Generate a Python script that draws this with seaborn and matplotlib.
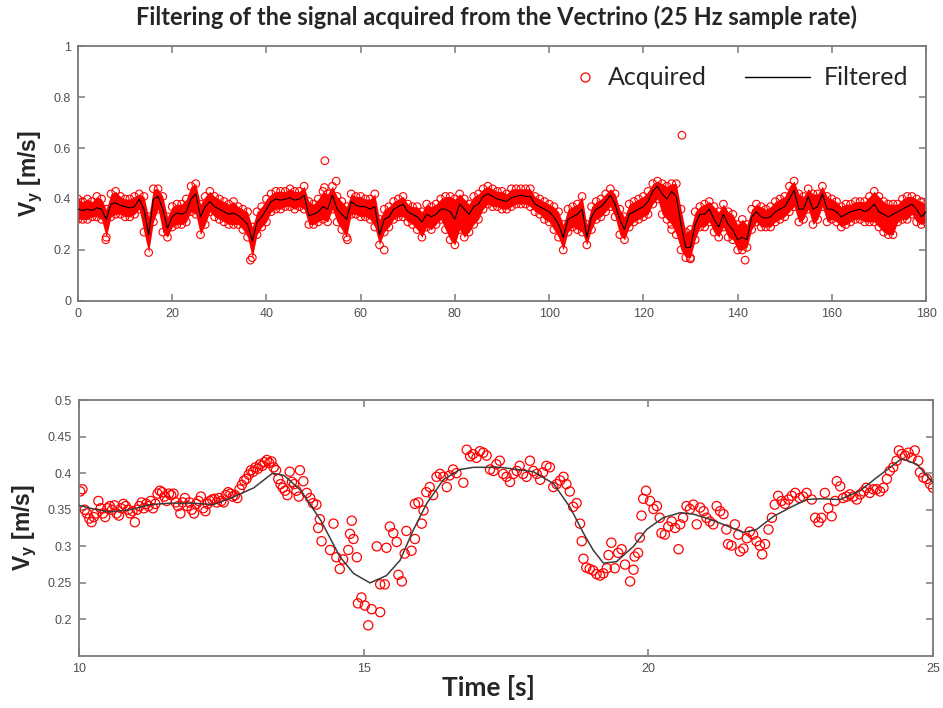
import numpy as np
import matplotlib
matplotlib.use('Agg')
import matplotlib.pyplot as plt
from matplotlib.lines import Line2D
import seaborn as sns

# ---- top panel: 0-180 s, values read per second ----
t_top = list(range(181))
filt_top = [.36, .355, .36, .355, .365, .36, .32, .38, .385, .375,
            .37, .365, .37, .40, .36, .26, .40, .41, .36, .285,
            .33, .345, .34, .35, .40, .42, .33, .37, .39, .37,
            .36, .35, .34, .345, .335, .32, .30, .235, .31, .33,
            .36, .39, .40, .395, .40, .405, .395, .40, .415, .335,
            .34, .35, .37, .36, .415, .36, .34, .32, .39, .375,
            .37, .37, .36, .37, .26, .32, .33, .36, .37, .38,
            .35, .34, .33, .31, .34, .33, .34, .36, .36, .35,
            .32, .38, .36, .34, .37, .38, .41, .42, .41, .40,
            .395, .39, .405, .41, .415, .41, .41, .38, .37, .36,
            .35, .33, .30, .25, .32, .33, .34, .36, .25, .33,
            .36, .37, .39, .415, .38, .32, .28, .34, .35, .36,
            .37, .39, .43, .45, .42, .40, .43, .41, .30, .21,
            .21, .30, .34, .34, .36, .32, .29, .34, .30, .28,
            .24, .25, .24, .33, .35, .33, .325, .33, .35, .36,
            .37, .40, .435, .36, .36, .41, .36, .37, .42, .36,
            .36, .35, .33, .34, .35, .355, .36, .35, .36, .38,
            .35, .34, .33, .34, .35, .36, .37, .38, .36, .33,
            .35]
# upper / lower edge of the acquired cloud
hi_top = [.40, .39, .40, .39, .41, .40, .36, .42, .43, .41,
          .40, .40, .41, .42, .41, .33, .44, .44, .41, .33,
          .37, .38, .38, .40, .45, .46, .38, .41, .43, .41,
          .40, .39, .38, .39, .37, .36, .35, .29, .35, .37,
          .40, .42, .43, .43, .43, .44, .43, .43, .45, .39,
          .38, .40, .43, .42, .45, .41, .39, .37, .42, .41,
          .41, .40, .40, .42, .32, .36, .37, .39, .40, .41,
          .38, .37, .37, .35, .38, .37, .38, .40, .41, .41,
          .40, .42, .40, .38, .41, .42, .44, .45, .44, .43,
          .43, .42, .44, .44, .44, .44, .44, .41, .40, .39,
          .38, .37, .35, .30, .36, .37, .38, .41, .30, .37,
          .39, .40, .42, .44, .42, .36, .33, .38, .39, .40,
          .41, .43, .46, .47, .46, .45, .46, .46, .36, .27,
          .28, .35, .37, .38, .39, .37, .35, .38, .35, .34,
          .30, .32, .30, .36, .38, .37, .36, .37, .39, .40,
          .41, .45, .47, .42, .41, .44, .42, .42, .45, .41,
          .40, .39, .37, .38, .38, .39, .39, .39, .41, .43,
          .41, .39, .38, .38, .38, .40, .41, .41, .40, .39,
          .38]
lo_top = [.32, .32, .32, .33, .33, .32, .25, .33, .34, .34,
          .33, .33, .34, .36, .27, .19, .31, .36, .27, .25,
          .29, .30, .30, .31, .35, .34, .26, .30, .35, .33,
          .32, .31, .30, .30, .30, .28, .25, .17, .26, .29,
          .31, .35, .36, .36, .37, .37, .36, .37, .36, .30,
          .30, .31, .32, .31, .36, .31, .28, .25, .34, .34,
          .33, .33, .32, .29, .22, .27, .29, .32, .33, .33,
          .31, .30, .28, .25, .29, .28, .30, .32, .28, .24,
          .22, .28, .25, .27, .30, .32, .36, .38, .37, .37,
          .36, .36, .37, .38, .38, .38, .37, .35, .34, .32,
          .31, .28, .25, .20, .27, .29, .28, .27, .22, .28,
          .32, .33, .35, .37, .33, .26, .24, .29, .31, .32,
          .33, .34, .38, .40, .34, .32, .30, .26, .20, .17,
          .17, .24, .29, .29, .31, .27, .25, .29, .25, .24,
          .20, .20, .21, .28, .31, .29, .29, .29, .31, .32,
          .33, .35, .37, .31, .32, .36, .30, .32, .37, .31,
          .32, .31, .29, .30, .31, .32, .32, .31, .31, .31,
          .29, .27, .26, .26, .31, .32, .32, .34, .31, .30,
          .31]
out_t = [5.9, 36.6, 52.3, 52.4, 54.8, 57.2, 65.0, 126.0, 128.2, 130.0, 141.6]
out_v = [0.24, 0.16, 0.445, 0.55, 0.47, 0.24, 0.20, 0.28, 0.65, 0.165, 0.16]

# ---- bottom panel: 10-25 s zoom ----
t_fb = [10.0, 10.25, 10.55, 10.9, 11.25, 11.6, 12.0, 12.36, 12.7, 13.07, 13.4, 13.6,
        13.9, 14.25, 14.58, 14.82, 15.11, 15.4, 15.64, 15.87, 16.11, 16.4, 16.69,
        16.93, 17.4, 17.98, 18.33, 18.62, 18.86, 19.03, 19.21, 19.44, 19.74, 19.97,
        20.26, 20.56, 20.79, 21.08, 21.38, 21.67, 21.9, 22.2, 22.49, 22.78, 23.02,
        23.37, 23.72, 24.01, 24.25, 24.45, 24.72, 25.0]
v_fb = [0.356, 0.351, 0.347, 0.350, 0.357, 0.359, 0.359, 0.357, 0.367, 0.38, 0.40, 0.397,
        0.376, 0.335, 0.286, 0.263, 0.25, 0.26, 0.281, 0.322, 0.359, 0.391, 0.405,
        0.408, 0.408, 0.402, 0.386, 0.354, 0.318, 0.295, 0.277, 0.279, 0.30, 0.323,
        0.339, 0.346, 0.344, 0.337, 0.328, 0.319, 0.323, 0.341, 0.353, 0.364, 0.365,
        0.364, 0.376, 0.394, 0.408, 0.42, 0.412, 0.387]

t_ab = [10.02, 10.06, 10.10, 10.14, 10.18, 10.22, 10.26, 10.30, 10.34, 10.38, 10.42,
        10.46, 10.50, 10.54, 10.58, 10.62, 10.66, 10.70, 10.74, 10.78, 10.82, 10.86,
        10.90, 10.94, 10.98, 11.02, 11.06, 11.10, 11.14, 11.18, 11.22, 11.26, 11.30,
        11.34, 11.38, 11.42, 11.46, 11.50, 11.54, 11.58, 11.62, 11.66, 11.70, 11.74,
        11.78, 11.82, 11.86, 11.90, 11.94, 11.98, 12.02, 12.06, 12.10, 12.14, 12.18,
        12.22, 12.26, 12.30, 12.34, 12.38, 12.42, 12.46, 12.50, 12.54, 12.58, 12.62,
        12.66, 12.70, 12.74, 12.78, 12.82, 12.86, 12.90, 12.94, 12.98, 13.02, 13.06,
        13.10, 13.14, 13.18, 13.22, 13.26, 13.30, 13.34, 13.38, 13.42, 13.46, 13.50,
        13.54, 13.58, 13.62, 13.66, 13.70, 13.74, 13.78, 13.82, 13.86,
        13.88, 13.94, 14.00, 14.06, 14.11, 14.17, 14.20, 14.23, 14.26, 14.41, 14.47,
        14.52, 14.58, 14.64, 14.73, 14.76, 14.79, 14.82, 14.88, 14.90, 14.96, 15.02,
        15.08, 15.14, 15.23, 15.29, 15.29, 15.37, 15.40, 15.46, 15.52, 15.58, 15.61,
        15.67, 15.72, 15.75, 15.84, 15.90, 15.90, 15.96, 16.02, 16.05, 16.10, 16.16,
        16.22, 16.28, 16.34, 16.40, 16.46, 16.51, 16.57, 16.63, 16.75, 16.81, 16.87,
        16.92, 16.98, 17.04, 17.10, 17.16, 17.22, 17.28, 17.33, 17.39, 17.45, 17.51,
        17.57, 17.63, 17.69, 17.74, 17.80, 17.86, 17.92, 17.98, 18.04, 18.10, 18.15,
        18.21, 18.27, 18.33, 18.39, 18.45, 18.51, 18.56, 18.62, 18.68, 18.74, 18.80,
        18.83, 18.86, 18.91, 18.97, 19.03, 19.09,
        19.15, 19.21, 19.27, 19.30, 19.35, 19.41, 19.47, 19.53, 19.59, 19.68, 19.74,
        19.76, 19.82, 19.85, 19.88, 19.91, 19.96, 20.03, 20.09, 20.15, 20.20, 20.23,
        20.29, 20.35, 20.41, 20.47, 20.53, 20.56, 20.61, 20.67, 20.73, 20.79, 20.85,
        20.91, 20.97, 21.02, 21.08, 21.14, 21.20, 21.26, 21.32, 21.37, 21.40, 21.46,
        21.52, 21.58, 21.61, 21.67, 21.73, 21.78, 21.84, 21.90, 21.96, 22.00, 22.05,
        22.11, 22.17, 22.22, 22.28, 22.34, 22.40, 22.46, 22.52, 22.58, 22.66, 22.72,
        22.78, 22.87, 22.93, 22.99, 23.04, 23.10, 23.16, 23.22, 23.28, 23.31, 23.37,
        23.42, 23.48, 23.54, 23.60, 23.66, 23.72, 23.78, 23.83, 23.89, 23.95, 24.01,
        24.07, 24.13, 24.19, 24.24, 24.30, 24.36, 24.40, 24.45, 24.51, 24.57, 24.62,
        24.68, 24.74, 24.77, 24.83, 24.89, 24.95, 25.00]
v_ab = [0.375, 0.378, 0.350, 0.345, 0.338, 0.333, 0.340, 0.345, 0.362, 0.352, 0.345,
        0.340, 0.352, 0.355, 0.350, 0.356, 0.345, 0.342, 0.352, 0.358, 0.355, 0.350,
        0.345, 0.348, 0.333, 0.350, 0.355, 0.360, 0.352, 0.358, 0.355, 0.362, 0.352,
        0.358, 0.372, 0.376, 0.374, 0.368, 0.362, 0.372, 0.370, 0.372, 0.360, 0.355,
        0.345, 0.360, 0.366, 0.355, 0.360, 0.350, 0.345, 0.358, 0.362, 0.368, 0.352,
        0.348, 0.358, 0.362, 0.364, 0.365, 0.360, 0.366, 0.362, 0.360, 0.370, 0.374,
        0.372, 0.368, 0.370, 0.366, 0.378, 0.384, 0.390, 0.392, 0.398, 0.404, 0.402,
        0.408, 0.406, 0.412, 0.410, 0.415, 0.418, 0.414, 0.416, 0.408, 0.404, 0.392,
        0.385, 0.380, 0.376, 0.370, 0.402, 0.388, 0.385, 0.376, 0.368,
        0.404, 0.389, 0.373, 0.366, 0.359, 0.357, 0.325, 0.337, 0.307, 0.295, 0.331,
        0.285, 0.269, 0.282, 0.295, 0.317, 0.335, 0.310, 0.285, 0.222, 0.230, 0.219,
        0.192, 0.214, 0.300, 0.248, 0.210, 0.248, 0.298, 0.327, 0.318, 0.306, 0.261,
        0.252, 0.290, 0.321, 0.294, 0.310, 0.358, 0.360, 0.331, 0.349, 0.374, 0.381,
        0.370, 0.395, 0.399, 0.395, 0.381, 0.397, 0.405, 0.400, 0.387, 0.432, 0.423,
        0.426, 0.421, 0.430, 0.428, 0.424, 0.405, 0.403, 0.412, 0.417, 0.399, 0.395,
        0.388, 0.399, 0.403, 0.410, 0.399, 0.395, 0.417, 0.403, 0.399, 0.391, 0.401,
        0.410, 0.408, 0.381, 0.385, 0.390, 0.395, 0.385, 0.375, 0.354, 0.359, 0.331,
        0.307, 0.283, 0.271, 0.269, 0.267, 0.262,
        0.260, 0.263, 0.270, 0.288, 0.305, 0.270, 0.291, 0.296, 0.275, 0.252, 0.268,
        0.286, 0.291, 0.312, 0.342, 0.365, 0.376, 0.362, 0.351, 0.355, 0.339, 0.318,
        0.316, 0.327, 0.334, 0.325, 0.296, 0.330, 0.339, 0.355, 0.351, 0.357, 0.330,
        0.353, 0.348, 0.339, 0.334, 0.330, 0.355, 0.348, 0.344, 0.323, 0.303, 0.301,
        0.330, 0.316, 0.293, 0.297, 0.311, 0.320, 0.316, 0.307, 0.301, 0.289, 0.303,
        0.323, 0.339, 0.357, 0.369, 0.362, 0.358, 0.364, 0.369, 0.373, 0.366, 0.368,
        0.373, 0.364, 0.339, 0.333, 0.339, 0.373, 0.352, 0.341, 0.362, 0.389, 0.382,
        0.366, 0.368, 0.371, 0.368, 0.364, 0.371, 0.375, 0.380, 0.373, 0.378, 0.378,
        0.375, 0.380, 0.392, 0.403, 0.408, 0.417, 0.431, 0.426, 0.424, 0.428, 0.421,
        0.431, 0.417, 0.401, 0.394, 0.392, 0.385, 0.380]

sns.set_style('white')
GREY = '#7a7a7a'
plt.rcParams.update({
    'font.family': ['Liberation Sans', 'DejaVu Sans'],
    'mathtext.fontset': 'custom',
    'mathtext.bf': 'Liberation Sans:bold',
    'mathtext.rm': 'Liberation Sans',
    'xtick.bottom': True, 'xtick.top': True,
    'ytick.left': True, 'ytick.right': True,
    'xtick.direction': 'in', 'ytick.direction': 'in',
    'xtick.major.size': 5, 'ytick.major.size': 5,
    'xtick.major.width': 1.1, 'ytick.major.width': 1.1,
    'xtick.color': GREY, 'ytick.color': GREY,
})

fig = plt.figure(figsize=(9.43, 7.08), dpi=100)
ax1 = fig.add_axes([0.0827, 0.5749, 0.8993, 0.3601])
ax2 = fig.add_axes([0.0838, 0.0734, 0.9056, 0.3616])

for ax in (ax1, ax2):
    for sp in ax.spines.values():
        sp.set_color(GREY)
        sp.set_linewidth(1.3)
    ax.tick_params(which='major', direction='in', length=5, width=1.1, color=GREY,
                   labelcolor='#505050', labelsize=9, top=True, right=True,
                   left=True, bottom=True, pad=5)

# top: acquired cloud + filtered
ax1.fill_between(t_top, lo_top, hi_top, color='red', lw=0)
for yy in (hi_top, lo_top):
    sns.scatterplot(x=t_top, y=yy, ax=ax1, marker='o', s=30, facecolor='none',
                    edgecolor='red', linewidth=0.8, zorder=2)
sns.scatterplot(x=out_t, y=out_v, ax=ax1, marker='o', s=30, facecolor='none',
                edgecolor='red', linewidth=0.8, zorder=2)
sns.lineplot(x=t_top, y=filt_top, ax=ax1, color='black', lw=0.8, zorder=3)
ax1.set_xlim(0, 180)
ax1.set_ylim(0, 1)
ax1.set_xticks(np.arange(0, 181, 20))
ax1.set_yticks([0, 0.2, 0.4, 0.6, 0.8, 1])
ax1.set_yticklabels(['0', '0.2', '0.4', '0.6', '0.8', '1'])
ax1.set_ylabel(r'$\mathbf{V_y}$ [m/s]', fontsize=16.5, fontweight='bold', labelpad=6)

leg_font = {'family': 'Lato', 'size': 18}
leg1 = ax1.legend([Line2D([], [], ls='none', marker='o', mfc='none', mec='red',
                          ms=6.5, mew=0.9)], ['Acquired'], frameon=False,
                  loc='center right', bbox_to_anchor=(0.742, 0.875), borderaxespad=0,
                  borderpad=0, handlelength=1.0, handletextpad=0.45, prop=leg_font)
ax1.add_artist(leg1)
ax1.legend([Line2D([], [], color='black', lw=1.0)], ['Filtered'], frameon=False,
           loc='center right', bbox_to_anchor=(0.979, 0.875), borderaxespad=0,
           borderpad=0, handlelength=2.6, handletextpad=0.55, prop=leg_font)

# bottom: zoomed window
sns.scatterplot(x=t_ab, y=v_ab, ax=ax2, marker='o', s=44, facecolor='none',
                edgecolor='red', linewidth=0.9, zorder=2)
sns.lineplot(x=t_fb, y=v_fb, ax=ax2, color='#3c3c3c', lw=1.1, zorder=3)
ax2.set_xlim(10, 25)
ax2.set_ylim(0.15, 0.5)
ax2.set_xticks([10, 15, 20, 25])
ax2.set_yticks([0.2, 0.25, 0.3, 0.35, 0.4, 0.45, 0.5])
ax2.set_yticklabels(['0.2', '0.25', '0.3', '0.35', '0.4', '0.45', '0.5'])
ax2.set_ylabel(r'$\mathbf{V_y}$ [m/s]', fontsize=16.5, fontweight='bold', labelpad=6)
ax2.set_xlabel('Time [s]', fontsize=19, fontweight='bold', family='Lato', labelpad=3)
ax2.xaxis.set_label_coords(0.479, -0.075)

fig.text(0.527, 0.975, 'Filtering of the signal acquired from the Vectrino (25 Hz sample rate)',
         ha='center', va='center', fontsize=17, fontweight='bold', family='Lato')

fig.savefig('out.png', dpi=100)
